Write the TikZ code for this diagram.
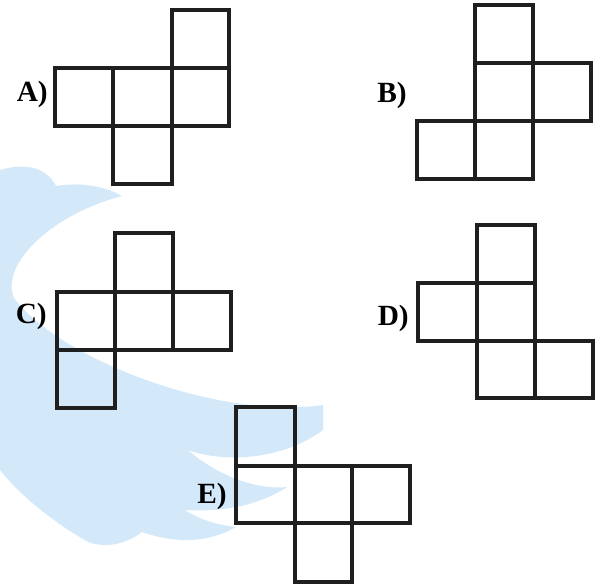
\documentclass[tikz,border=0pt]{standalone}
\usepackage{fontspec}
\setmainfont{Liberation Serif}
\definecolor{wmblue}{RGB}{211,233,250}
\tikzset{
  sq/.style={draw=black!88, line width=2.4pt, line join=miter},
  lbl/.style={anchor=base east, inner sep=0pt, font=\bfseries\fontsize{22}{22}\selectfont},
  wm/.style={fill=wmblue, draw=none}
}
\begin{document}
\begin{tikzpicture}[x=0.75pt,y=-0.75pt]
\useasboundingbox (0,0) rectangle (598,586);
% watermark swoosh
\path[wm] (0,170) .. controls (20,164) and (45,164) .. (56,186)
  .. controls (80,182) and (105,186) .. (122,196)
  .. controls (50,215) and (0,265) .. (14,298)
  .. controls (60,360) and (220,420) .. (323,405)
  -- (323,430)
  .. controls (280,462) and (220,462) .. (188,450)
  .. controls (220,478) and (260,490) .. (287,487)
  .. controls (255,508) and (215,512) .. (185,510)
  .. controls (200,520) and (218,525) .. (236,527)
  .. controls (205,545) and (170,542) .. (142,532)
  .. controls (125,545) and (105,548) .. (88,542)
  .. controls (50,520) and (20,495) .. (0,470) -- cycle;
% A
\foreach \xa/\ya/\xb/\yb in {172/10/229/68, 55/68/113/126, 113/68/172/126, 172/68/229/126, 113/126/172/184}
  \draw[sq] (\xa,\ya) rectangle (\xb,\yb);
\node[lbl] (la) at (48,101) {A)};
% B
\foreach \xa/\ya/\xb/\yb in {475/5/533/63, 475/63/533/121, 533/63/591/121, 417/121/475/179, 475/121/533/179}
  \draw[sq] (\xa,\ya) rectangle (\xb,\yb);
\node[lbl] (lb) at (407,102) {B)};
% C
\foreach \xa/\ya/\xb/\yb in {115/233/173/292, 57/292/115/350, 115/292/173/350, 173/292/231/350, 57/350/115/408}
  \draw[sq] (\xa,\ya) rectangle (\xb,\yb);
\node[lbl] (lc) at (47,323) {C)};
% D
\foreach \xa/\ya/\xb/\yb in {477/225/535/283, 418/283/477/341, 477/283/535/341, 477/341/535/398, 535/341/593/398}
  \draw[sq] (\xa,\ya) rectangle (\xb,\yb);
\node[lbl] (ld) at (409,325) {D)};
% E
\foreach \xa/\ya/\xb/\yb in {236/407/295/466, 236/466/295/523, 295/466/352/523, 352/466/410/523, 295/523/352/582}
  \draw[sq] (\xa,\ya) rectangle (\xb,\yb);
\node[lbl] (le) at (227,503) {E)};
\end{tikzpicture}
\end{document}
